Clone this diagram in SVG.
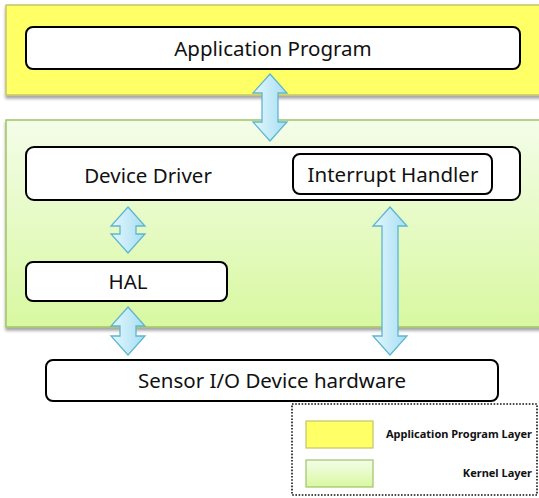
<svg xmlns="http://www.w3.org/2000/svg" width="539" height="498" viewBox="0 0 539 498">
  <defs>
    <linearGradient id="kernelFill" x1="0" y1="0" x2="0" y2="1">
      <stop offset="0" stop-color="#f4fde9"/>
      <stop offset="1" stop-color="#d8f8a0"/>
    </linearGradient>
    <linearGradient id="arrowFill" x1="0" y1="0" x2="1" y2="0">
      <stop offset="0" stop-color="#e4f7fd"/>
      <stop offset="1" stop-color="#a6def3"/>
    </linearGradient>
    <filter id="shadow" x="-5%" y="-5%" width="110%" height="120%">
      <feDropShadow dx="0" dy="3" stdDeviation="1.5" flood-color="#000" flood-opacity="0.35"/>
    </filter>
  </defs>
  <style>
    .box { fill: #ffffff; stroke: #000000; stroke-width: 2; }
    .label { font-family: "Noto Sans", "Open Sans", sans-serif; font-size: 20.5px; fill: #111; text-anchor: middle; }
    .legend-text { font-family: "Noto Sans", "Open Sans", sans-serif; font-size: 11px; font-weight: bold; fill: #111; text-anchor: end; }
    .arrow { fill: url(#arrowFill); stroke: #5db6d1; stroke-width: 1.3; stroke-linejoin: miter; }
  </style>

  <rect width="539" height="498" fill="#ffffff"/>

  <!-- layer bands -->
  <g id="app-layer">
    <rect x="6" y="5" width="540" height="90" fill="#ffff66" stroke="#c4c46a" stroke-width="1.5" filter="url(#shadow)"/>
  </g>
  <g id="kernel-layer">
    <rect x="6" y="120" width="540" height="207" fill="url(#kernelFill)" stroke="#9fc464" stroke-width="1.5" filter="url(#shadow)"/>
  </g>

  <!-- nodes -->
  <g id="application-program">
    <rect class="box" x="26" y="27" width="494" height="42" rx="7"/>
    <text class="label" x="273" y="56">Application Program</text>
  </g>
  <g id="device-driver">
    <rect class="box" x="26" y="147" width="494" height="53" rx="8"/>
    <text class="label" x="148" y="183">Device Driver</text>
  </g>
  <g id="interrupt-handler">
    <rect class="box" x="293" y="154" width="199" height="40" rx="7"/>
    <text class="label" x="393" y="182">Interrupt Handler</text>
  </g>
  <g id="hal">
    <rect class="box" x="26" y="262" width="201" height="39" rx="7"/>
    <text class="label" x="128" y="289">HAL</text>
  </g>
  <g id="sensor-hardware">
    <rect class="box" x="46" y="360" width="452" height="41" rx="7"/>
    <text class="label" x="272" y="388">Sensor I/O Device hardware</text>
  </g>

  <!-- connectors: double-headed block arrows -->
  <g id="connectors">
    <path class="arrow" d="M270,74 L287,93 L278,93 L278,122 L287,122 L270,141 L253,122 L262,122 L262,93 L253,93 Z"/>
    <path class="arrow" d="M128,207 L145,226 L136,226 L136,234 L145,234 L128,253 L111,234 L120,234 L120,226 L111,226 Z"/>
    <path class="arrow" d="M128,307 L145,326 L136,326 L136,336 L145,336 L128,355 L111,336 L120,336 L120,326 L111,326 Z"/>
    <path class="arrow" d="M390,207 L407,226 L398,226 L398,336 L407,336 L390,355 L373,336 L382,336 L382,226 L373,226 Z"/>
  </g>

  <!-- legend -->
  <g id="legend">
    <rect x="292" y="404" width="245" height="91" fill="none" stroke="#111" stroke-width="1.6" stroke-dasharray="1.6 1.6"/>
    <rect x="306" y="421" width="67" height="27" fill="#ffff66" stroke="#c4c46a" stroke-width="1.2"/>
    <text class="legend-text" x="532" y="438">Application Program Layer</text>
    <rect x="306" y="460" width="67" height="27" fill="url(#kernelFill)" stroke="#9fc464" stroke-width="1.2"/>
    <text class="legend-text" x="532" y="477">Kernel Layer</text>
  </g>
</svg>
